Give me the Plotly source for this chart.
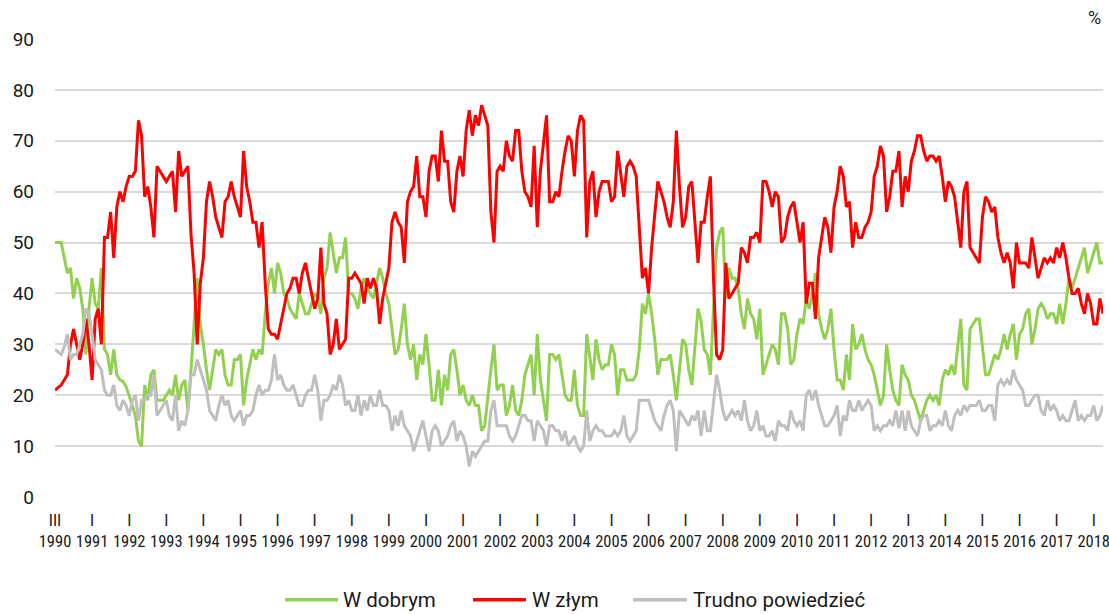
import plotly.graph_objects as go

# Monthly survey values, first point = March 1990 (index 0), ticks every 12 points
w_dobrym = [
    50, 50, 50, 47, 44, 45, 39, 43, 41, 37, 28, 37, 43, 38, 37, 45, 29, 28, 24, 29, 24, 23, 22.7, 21.7,
    20, 18, 16, 11, 10, 22, 19, 24, 25, 19, 19, 19, 20, 21, 20, 24, 19, 22, 23, 17, 25, 34, 43, 34,
    30, 25, 21, 25, 29, 28, 29, 24, 22, 22, 27, 27, 28, 18, 23, 26, 29, 27, 29, 28, 36, 42, 45, 40,
    46, 44, 40, 39, 37, 36, 35, 40, 38, 36, 36, 38, 40, 39, 36, 43, 45, 52, 48, 44, 47, 47, 51, 40,
    40, 39, 37, 41, 43, 41, 40, 39, 42, 45, 43, 40, 38, 33, 28, 29, 33, 38, 30, 27, 30, 23, 28, 26,
    32, 26, 19, 19, 25, 18, 24, 21, 28, 29, 25, 20, 22, 19, 18, 20, 18, 18, 13, 14, 20, 25, 30, 21,
    22, 22, 16, 18, 22, 17, 16, 19, 24, 26, 28, 20, 32, 23, 19, 15, 28, 28, 27, 28, 24, 20, 19, 19,
    25, 18, 16, 16, 32, 27, 23, 31, 27, 25, 26, 26, 30, 28, 20, 25, 25, 23, 23, 23, 24, 29, 38, 36,
    40, 36, 31, 24, 27, 27, 27, 28, 24, 19, 25, 31, 30, 25, 22, 29, 37, 34.5, 29, 28, 24, 37, 49, 52,
    53, 39, 45, 43, 43, 41, 36, 33, 39, 36, 35, 31, 37, 24, 26, 28, 30, 29, 26, 36, 36, 33, 26, 27,
    32, 35, 34, 39, 37, 40, 44, 36, 33, 31, 33, 37, 29, 23, 23, 21, 28, 23, 34, 29, 30, 32, 29, 27,
    26, 24, 21, 18, 20, 30, 25, 21, 19, 18, 26, 24, 23, 20, 19, 17, 15, 17, 19, 20, 19, 20, 18, 23,
    25, 24, 26, 24, 29, 35, 22, 21, 33, 34, 35, 35, 29, 24, 24, 26, 28, 27, 29, 32, 29, 32, 34, 27,
    32, 33, 36, 37, 30, 33, 37, 38, 37, 35, 36, 36, 34, 38, 34, 38, 43, 41, 43, 45, 47, 49, 44, 46,
    48, 50, 46, 46,
]
w_zlym = [
    21, 21.5, 22, 23, 24, 30, 33, 30, 27, 30, 35, 30, 23, 35, 37, 30, 51, 51, 56, 47, 57, 60, 58, 61,
    63, 63, 64, 74, 71, 59, 61, 57, 51, 65, 64, 63, 62, 63, 64, 56, 68, 63, 64, 65, 51.5, 44, 30, 42,
    47, 58, 62, 59, 55, 53, 51, 58, 59, 62, 59, 57, 55, 68, 61, 58, 54, 54, 49, 54, 42, 33, 32, 32,
    31, 34, 37, 40, 41, 43, 43, 40, 44, 46, 43, 40, 37, 39, 49, 38, 36, 28, 30, 35, 29, 30, 31, 43,
    43, 44, 43, 42, 38, 43, 41, 43, 41, 34, 39, 42, 45, 54, 56, 54, 53, 46, 58, 60, 61, 67, 59, 59,
    55, 64, 67, 67, 62, 72, 66, 66, 58, 56, 64, 67, 63, 72, 76, 71, 75, 73, 77, 75, 73, 56, 50, 64,
    65, 64, 70, 67, 66, 72, 72, 64, 60, 59, 57, 69, 53, 64, 70, 75, 58, 58, 60, 59, 64, 68, 71, 70,
    63, 72, 75, 74, 51, 62, 64, 55, 60, 62, 62, 62, 58, 59, 68, 63, 59, 65, 66, 65, 63, 53, 43, 45,
    40, 49, 56, 62, 60, 58, 55, 53, 58, 72, 61, 53, 55, 61, 62, 54, 46, 54, 54, 59, 63, 43, 28, 27,
    29, 46, 39, 40, 41, 42, 49, 48, 46, 51, 51, 52, 50, 62, 62, 60, 57, 60, 59, 50, 51, 55, 57, 58,
    54, 50, 54, 38, 42, 42, 35, 47, 51, 55, 53, 48, 57, 60, 65, 63, 57, 58, 49, 54, 51, 51, 53, 54,
    56, 63, 65, 69, 67, 56, 59, 64, 64, 68, 57, 63, 60, 66, 68, 71, 71, 68, 66, 67, 67, 66, 67, 63,
    58, 62, 61, 59, 54, 49, 60, 62, 49, 48, 47, 46, 55, 59, 58, 56, 57, 51, 48, 46, 48, 46, 41, 50,
    46, 46, 46, 45, 51, 47, 43, 45, 47, 46, 47, 46, 49, 47, 50, 47, 43, 40, 40, 41, 38, 36, 40, 38,
    34, 34, 39, 36,
]
trudno = [
    29, 28.5, 28, 29.5, 32, 27, 28, 28, 30, 32, 37, 36, 32, 27, 26, 25, 21, 20, 20, 22, 18, 17, 19, 18,
    16, 19, 20, 15, 19, 19, 20, 20, 24, 16, 17, 18, 19, 16, 15, 20, 13, 15, 14, 17, 24, 24, 27, 25,
    23, 21, 17, 16, 15, 18, 20, 18, 19, 16, 15, 16, 17, 14, 16, 16, 17, 20, 22, 20, 21, 21, 23, 28,
    23, 24, 22, 21, 21, 22, 20, 18, 18, 20, 21, 21, 24, 21, 15, 19, 19, 20, 22, 21, 24, 22, 18, 19,
    17, 17, 20, 16, 19, 17, 20, 18, 18, 21, 18, 18, 17, 13, 16, 14, 17, 14, 13, 12, 9, 11, 13, 15,
    12, 9, 13, 14, 13, 10, 11, 12, 14, 15, 11, 13, 12, 10, 6, 9, 8, 9, 10, 11, 11, 17, 19, 14,
    14, 14, 14, 12, 11, 12, 14, 16, 16, 15, 15, 11, 15, 14, 13, 10, 14, 14, 13, 13, 11, 13, 10, 11,
    12, 10, 9, 10, 17, 11, 13, 14, 13, 13, 12, 12, 12, 13, 12, 13, 16, 12, 11, 12, 13, 19, 19, 19,
    19, 17, 15, 14, 13, 16, 18, 19, 17, 9, 17, 16, 15, 14, 16, 15, 17, 12, 17, 13, 13, 19, 24, 21,
    17, 15, 16, 17, 16, 17, 15, 19, 15, 13, 14, 17, 13, 14, 12, 12, 13, 11, 15, 14, 14, 13, 17, 15,
    14, 15, 13, 20, 21, 19, 21, 18, 16, 14, 14, 15, 16, 18, 12, 16, 15, 19, 17, 17, 19, 17, 18, 19,
    18, 13, 14, 13, 14, 14, 15, 14, 17, 13.5, 17, 13, 17, 14, 13, 12, 15, 16, 16, 13, 14, 14, 15, 14,
    17, 14, 13, 16, 17, 16, 18, 17, 18, 18, 18, 19, 17, 17, 18, 18, 15, 22, 23, 22, 23, 22, 25, 23,
    22, 21, 18, 18, 19, 20, 20, 17, 16, 19, 17, 18, 17, 15, 16, 15, 15, 17, 19, 15, 16, 15, 16, 16,
    18, 15, 16, 18,
]
month_labels = ["III"] + ["I"] * 28
year_labels = [str(y) for y in range(1990, 2019)]
y_ticks = list(range(0, 100, 10))
series_names = ["W dobrym", "W złym", "Trudno powiedzieć"]
series_colors = ["#92D050", "#FF0000", "#BFBFBF"]

months = list(range(len(w_zlym)))
tick_pos = [12 * i for i in range(len(year_labels))]
tick_text = [f"{m}<br>{y}" for m, y in zip(month_labels, year_labels)]

fig = go.Figure()
for name, vals, col in zip(series_names, [w_dobrym, w_zlym, trudno], series_colors):
    fig.add_trace(go.Scatter(x=months, y=vals, mode="lines", name=name,
                             line=dict(color=col, width=3), showlegend=False))

# hand-drawn legend (paper coordinates) to match the wide swatches of the original
legend_y = -0.2245
legend_items = [  # (line x0, line x1, text x)
    (0.2195, 0.2700, 0.2740),
    (0.3989, 0.4494, 0.4545),
    (0.5515, 0.6031, 0.6080),
]
shapes = []
annotations = []
for (x0, x1, xt), name, col in zip(legend_items, series_names, series_colors):
    shapes.append(dict(type="line", xref="paper", yref="paper", x0=x0, x1=x1,
                       y0=legend_y, y1=legend_y, line=dict(color=col, width=3.5)))
    annotations.append(dict(text=name, xref="paper", yref="paper", x=xt, y=legend_y,
                            xanchor="left", yanchor="middle", showarrow=False, borderpad=0,
                            font=dict(size=20.5, family="Roboto, Arial, sans-serif", color="#1a1a1a")))
annotations.append(dict(text="%", xref="paper", yref="paper", x=1, y=1.046, xanchor="right",
                        yanchor="middle", showarrow=False,
                        font=dict(size=18, family="Roboto, Arial, sans-serif", color="#1a1a1a")))

fig.update_layout(
    width=1109, height=614,
    margin=dict(l=55, r=6, t=39, b=117, autoexpand=False),
    paper_bgcolor="white", plot_bgcolor="white",
    font=dict(family="Roboto, Arial, sans-serif", color="#1a1a1a"),
    showlegend=False,
    xaxis=dict(range=[0, len(w_zlym) - 1], tickmode="array", tickvals=tick_pos, ticktext=tick_text,
               showgrid=False, zeroline=False, showline=False, ticks="",
               tickfont=dict(size=16.5, family="Roboto Condensed, Liberation Sans Narrow, Arial Narrow, Roboto",
                             color="#1a1a1a"),
               tickangle=0, ticklabelstandoff=11, ticklabeloverflow="allow"),
    yaxis=dict(range=[0, 90], tickmode="array", tickvals=y_ticks, showgrid=True,
               gridcolor="#d9d9d9", gridwidth=2, zeroline=False, showline=False, ticks="",
               tickfont=dict(size=19, color="#1a1a1a"), ticklabelstandoff=20),
    shapes=shapes,
    annotations=annotations,
)

fig.write_html("out.html", config={"displayModeBar": False},
               post_script="document.body.style.margin='0';document.body.style.overflow='hidden';")
